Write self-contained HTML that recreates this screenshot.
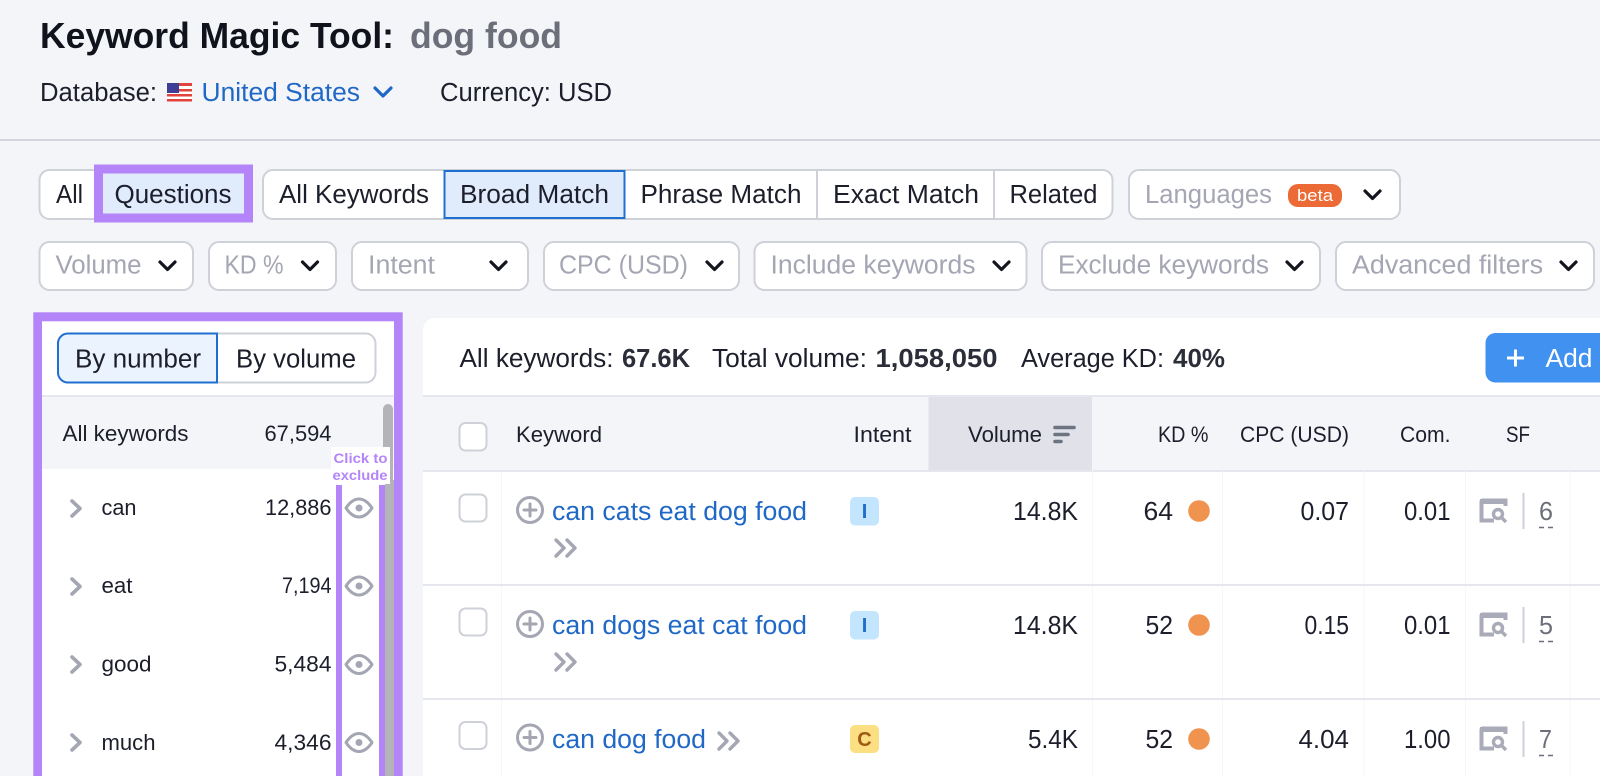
<!DOCTYPE html>
<html lang="en">
<head>
<meta charset="utf-8">
<title>Keyword Magic Tool: dog food</title>
<style>
html,body{margin:0;padding:0;background:#f4f5f9;width:1600px;height:776px;overflow:hidden}
svg{display:block;overflow:hidden}
text{font-family:"Liberation Sans",sans-serif;fill:#1c1e2b;font-size:25.5px}
.g{fill:#a4a6b3}
.l{fill:#1f68c6}
.s{font-size:22px}
.ic{fill:none;stroke:#a4a6b3;stroke-width:3;stroke-linecap:round;stroke-linejoin:round}
.ch{fill:none;stroke:#14161f;stroke-width:3.2;stroke-linecap:round;stroke-linejoin:round}
.b{fill:#fff;stroke:#cfd1d9;stroke-width:2}
.sep{stroke:#e6e7ee;stroke-width:2}
.col{stroke:#f6f7fa;stroke-width:1}
</style>
</head>
<body>
<svg width="1600" height="776" viewBox="0 0 1600 776" xmlns="http://www.w3.org/2000/svg">
<rect width="1600" height="776" fill="#f4f5f9"/>

<g>
<text x="40" y="48" font-weight="700" style="font-size:36px;fill:#11131c" textLength="354">Keyword Magic Tool:</text>
<text x="410" y="48" font-weight="700" style="font-size:36px;fill:#6c6e79" textLength="152">dog food</text>
<text x="40" y="101" textLength="117">Database:</text>
<g>
<rect x="167" y="83" width="25" height="18" fill="#fff"/>
<rect x="167" y="83" width="25" height="3" fill="#e2433f"/><rect x="167" y="89" width="25" height="2.5" fill="#e2433f"/><rect x="167" y="94" width="25" height="2.5" fill="#e2433f"/><rect x="167" y="99" width="25" height="2.5" fill="#e2433f"/>
<rect x="167" y="83" width="12" height="10" fill="#3c3f94"/>
</g>
<text x="201.500" y="101" class="l" textLength="158.500">United States</text>
<path d="M375 88l8 8 8-8" fill="none" stroke="#1f68c6" stroke-width="3.200" stroke-linecap="round" stroke-linejoin="round"/>
<text x="440" y="101" textLength="172">Currency: USD</text>
<line x1="0" y1="140" x2="1600" y2="140" stroke="#d4d6de" stroke-width="2"/>
</g>

<g>
<rect x="39.500" y="170" width="110" height="49" rx="10" class="b"/>
<text x="56" y="203" textLength="27">All</text>
<rect x="98.500" y="169" width="150" height="49" fill="#e0ebfb" stroke="#b485f8" stroke-width="9"/>
<text x="114.500" y="203" textLength="117">Questions</text>
</g>

<g>
<rect x="263" y="170" width="849.500" height="49" rx="10" class="b"/>
<text x="279" y="203" textLength="150">All Keywords</text>
<rect x="444.500" y="171" width="180" height="47" fill="#e0ebfb" stroke="#1f6fd0" stroke-width="2"/>
<text x="460" y="203" textLength="149">Broad Match</text>
<text x="640.500" y="203" textLength="161">Phrase Match</text>
<line x1="817" y1="170" x2="817" y2="219" stroke="#cfd1d9" stroke-width="2"/>
<text x="833" y="203" textLength="146">Exact Match</text>
<line x1="994" y1="170" x2="994" y2="219" stroke="#cfd1d9" stroke-width="2"/>
<text x="1009.500" y="203" textLength="88">Related</text>
</g>

<g>
<rect x="1129" y="170" width="271" height="49" rx="10" class="b"/>
<text x="1145" y="203" class="g" textLength="127">Languages</text>
<rect x="1288" y="184" width="54" height="23" rx="10" fill="#ec6a35"/>
<text x="1297" y="201" style="font-size:17px;fill:#fff" textLength="36">beta</text>
<path class="ch" d="M1365 191l7.500 7.500 7.500-7.500"/>
</g>

<g>
<g><rect x="39.500" y="242" width="153.500" height="48" rx="10" class="b"/><text x="55.500" y="273.500" class="g" textLength="86">Volume</text><path class="ch" d="M160 262l7.500 7.500 7.500-7.500"/></g>
<g><rect x="209" y="242" width="127" height="48" rx="10" class="b"/><text x="224.500" y="273.500" class="g" textLength="59">KD %</text><path class="ch" d="M302.500 262l7.500 7.500 7.500-7.500"/></g>
<g><rect x="352" y="242" width="176" height="48" rx="10" class="b"/><text x="368" y="273.500" class="g" textLength="67">Intent</text><path class="ch" d="M491 262l7.500 7.500 7.500-7.500"/></g>
<g><rect x="544" y="242" width="195" height="48" rx="10" class="b"/><text x="559" y="273.500" class="g" textLength="129">CPC (USD)</text><path class="ch" d="M707 262l7.500 7.500 7.500-7.500"/></g>
<g><rect x="754.500" y="242" width="272" height="48" rx="10" class="b"/><text x="770.500" y="273.500" class="g" textLength="205">Include keywords</text><path class="ch" d="M994 262l7.500 7.500 7.500-7.500"/></g>
<g><rect x="1042" y="242" width="278" height="48" rx="10" class="b"/><text x="1058" y="273.500" class="g" textLength="211">Exclude keywords</text><path class="ch" d="M1287 262l7.500 7.500 7.500-7.500"/></g>
<g><rect x="1336" y="242" width="258" height="48" rx="10" class="b"/><text x="1352" y="273.500" class="g" textLength="191">Advanced filters</text><path class="ch" d="M1561 262l7.500 7.500 7.500-7.500"/></g>
</g>

<g>
<rect x="33.300" y="312.300" width="369.400" height="463.700" fill="#b485f8"/>
<rect x="42" y="321.300" width="352" height="454.700" fill="#fff"/>
<rect x="58" y="333.500" width="317.500" height="49" rx="10" class="b"/>
<path d="M217 333.500H68a10 10 0 0 0-10 10v29a10 10 0 0 0 10 10H217z" fill="#ebf3fe" stroke="#1f6fd0" stroke-width="2"/>
<text x="75" y="367.500" textLength="126">By number</text>
<text x="236" y="367.500" textLength="120">By volume</text>
<line x1="42" y1="396" x2="394" y2="396" class="sep"/>
<rect x="42" y="397" width="352" height="72" fill="#f4f5f9"/>
<text x="62.500" y="441" class="s" textLength="126">All keywords</text>
<text x="264.500" y="441" class="s" textLength="67">67,594</text>

<rect x="383" y="404" width="10" height="80" rx="5" fill="#b3b3b8"/>
<rect x="385" y="480" width="9" height="296" fill="#b3b3b8"/>
<rect x="336" y="485" width="6" height="291" fill="#b485f8"/>
<rect x="379" y="485" width="6" height="291" fill="#b485f8"/>
<rect x="331" y="447" width="59" height="37" fill="#fff"/>
<text x="333.500" y="463" font-weight="700" style="font-size:14px;fill:#b485f8" textLength="54">Click to</text>
<text x="332.500" y="480" font-weight="700" style="font-size:14px;fill:#b485f8" textLength="55">exclude</text>

<g>
<path class="ic" style="stroke-width:3.600" d="M72 501l8 7.500-8 7.500"/><text x="101.500" y="515" class="s" textLength="35">can</text><text x="265" y="515" class="s" textLength="66.500">12,886</text>
<g><path class="ic" d="M346 508c4-6 8-9 13-9s9 3 13 9c-4 6-8 9-13 9s-9-3-13-9z"/><circle cx="359" cy="508" r="3.500" fill="#a4a6b3"/></g>
</g>
<g>
<path class="ic" style="stroke-width:3.600" d="M72 579l8 7.500-8 7.500"/><text x="101.500" y="593" class="s" textLength="31">eat</text><text x="282" y="593" class="s" textLength="49.500">7,194</text>
<g><path class="ic" d="M346 586c4-6 8-9 13-9s9 3 13 9c-4 6-8 9-13 9s-9-3-13-9z"/><circle cx="359" cy="586" r="3.500" fill="#a4a6b3"/></g>
</g>
<g>
<path class="ic" style="stroke-width:3.600" d="M72 657l8 7.500-8 7.500"/><text x="101.500" y="671.500" class="s" textLength="50">good</text><text x="274.500" y="671.500" class="s" textLength="57">5,484</text>
<g><path class="ic" d="M346 664.500c4-6 8-9 13-9s9 3 13 9c-4 6-8 9-13 9s-9-3-13-9z"/><circle cx="359" cy="664.500" r="3.500" fill="#a4a6b3"/></g>
</g>
<g>
<path class="ic" style="stroke-width:3.600" d="M72 735l8 7.500-8 7.500"/><text x="101.500" y="750" class="s" textLength="54">much</text><text x="274.500" y="750" class="s" textLength="57">4,346</text>
<g><path class="ic" d="M346 742.500c4-6 8-9 13-9s9 3 13 9c-4 6-8 9-13 9s-9-3-13-9z"/><circle cx="359" cy="742.500" r="3.500" fill="#a4a6b3"/></g>
</g>
</g>

<g>
<path d="M423 776V330a12 12 0 0 1 12-12H1600V776z" fill="#fff"/>
<g>
<text x="459.500" y="367" textLength="154">All keywords:</text>
<text x="622" y="367" font-weight="700" style="fill:#2b2d38" textLength="68">67.6K</text>
<text x="712" y="367" textLength="155">Total volume:</text>
<text x="875.500" y="367" font-weight="700" style="fill:#2b2d38" textLength="122">1,058,050</text>
<text x="1021" y="367" textLength="143">Average KD:</text>
<text x="1173" y="367" font-weight="700" style="fill:#2b2d38" textLength="52">40%</text>
</g>
<g>
<path d="M1600 333H1495.500a10 10 0 0 0-10 10v29.500a10 10 0 0 0 10 10H1600z" fill="#4191f0"/>
<path d="M1507 358h17M1515.500 349.500v17" stroke="#fff" stroke-width="3" fill="none"/>
<text x="1545.500" y="367" style="fill:#fff" textLength="47">Add</text>
</g>

<g>
<rect x="423" y="397" width="1177" height="74" fill="#f4f5f9"/>
<line x1="423" y1="396" x2="1600" y2="396" class="sep"/>
<line x1="423" y1="471" x2="1600" y2="471" class="sep"/>
<rect x="928.500" y="397" width="163.500" height="73" fill="#e0e1e9"/>
<rect x="459.500" y="423" width="27" height="27.500" rx="6" class="b"/>
<text x="516" y="442" class="s" textLength="86">Keyword</text>
<text x="853.500" y="442" class="s" textLength="58">Intent</text>
<text x="968" y="442" class="s" textLength="74">Volume</text>
<path d="M1055 427.500h19M1055 434.500h13M1055 441.500h6" stroke="#6b7480" stroke-width="3.600" stroke-linecap="round" fill="none"/>
<text x="1158" y="442" class="s" textLength="50.500">KD %</text>
<text x="1240" y="442" class="s" textLength="109">CPC (USD)</text>
<text x="1400" y="442" class="s" textLength="50.500">Com.</text>
<text x="1506" y="442" class="s" textLength="24">SF</text>
</g>

<g>
<line x1="501.500" y1="471" x2="501.500" y2="776" class="col"/>
<line x1="1092.500" y1="471" x2="1092.500" y2="776" class="col"/>
<line x1="1222.500" y1="471" x2="1222.500" y2="776" class="col"/>
<line x1="1364" y1="471" x2="1364" y2="776" class="col"/>
<line x1="1465.500" y1="471" x2="1465.500" y2="776" class="col"/>
<line x1="1570" y1="471" x2="1570" y2="776" class="col"/>
</g>
<line x1="423" y1="585" x2="1600" y2="585" class="sep"/>
<line x1="423" y1="699" x2="1600" y2="699" class="sep"/>

<g>
<rect x="459.500" y="494.500" width="27" height="27" rx="6" class="b"/>
<g><circle cx="530" cy="510" r="12.500" class="ic"/><path class="ic" d="M524 510h12M530 504v12"/></g>
<text x="552" y="520" class="l" textLength="255">can cats eat dog food</text>
<path class="ic" style="stroke-width:3.400" d="M556 540l8 8-8 8M567 540l8 8-8 8"/>
<rect x="850" y="497" width="29" height="28.500" rx="5" fill="#c4e5fe"/>
<text x="864.500" y="518" text-anchor="middle" font-weight="700" style="font-size:20px;fill:#1f6fc9">I</text>
<text x="1013" y="520" textLength="65">14.8K</text>
<text x="1143.500" y="520" textLength="29.500">64</text>
<circle cx="1199" cy="511" r="10.800" fill="#f0934f"/>
<text x="1300.500" y="520" textLength="48.500">0.07</text>
<text x="1404" y="520" textLength="46.500">0.01</text>
<g><path d="M1481.500 500.500H1505.500V506M1481.500 500.500V520.500H1494" fill="none" stroke="#a9abb8" stroke-width="4"/><rect x="1480" y="499" width="27" height="5" fill="#a9abb8"/><circle cx="1498" cy="514" r="4.500" fill="none" stroke="#a9abb8" stroke-width="3.400"/><path d="M1502 518l4 4" stroke="#a9abb8" stroke-width="3.400"/></g>
<line x1="1523.500" y1="493" x2="1523.500" y2="529" stroke="#cfd1d9" stroke-width="2"/>
<text x="1539" y="520" style="fill:#6c6e79" textLength="14">6</text>
<line x1="1539" y1="527.500" x2="1554" y2="527.500" stroke="#6c6e79" stroke-width="1.500" stroke-dasharray="5 4"/>
</g>

<g>
<rect x="459.500" y="608.500" width="27" height="27" rx="6" class="b"/>
<g><circle cx="530" cy="624" r="12.500" class="ic"/><path class="ic" d="M524 624h12M530 618v12"/></g>
<text x="552" y="634" class="l" textLength="255">can dogs eat cat food</text>
<path class="ic" style="stroke-width:3.400" d="M556 654l8 8-8 8M567 654l8 8-8 8"/>
<rect x="850" y="611" width="29" height="28.500" rx="5" fill="#c4e5fe"/>
<text x="864.500" y="632" text-anchor="middle" font-weight="700" style="font-size:20px;fill:#1f6fc9">I</text>
<text x="1013" y="634" textLength="65">14.8K</text>
<text x="1145.500" y="634" textLength="27.500">52</text>
<circle cx="1199" cy="625" r="10.800" fill="#f0934f"/>
<text x="1304.500" y="634" textLength="44.500">0.15</text>
<text x="1404" y="634" textLength="46.500">0.01</text>
<g><path d="M1481.500 614.500H1505.500V620M1481.500 614.500V634.500H1494" fill="none" stroke="#a9abb8" stroke-width="4"/><rect x="1480" y="613" width="27" height="5" fill="#a9abb8"/><circle cx="1498" cy="628" r="4.500" fill="none" stroke="#a9abb8" stroke-width="3.400"/><path d="M1502 632l4 4" stroke="#a9abb8" stroke-width="3.400"/></g>
<line x1="1523.500" y1="607" x2="1523.500" y2="643" stroke="#cfd1d9" stroke-width="2"/>
<text x="1539" y="634" style="fill:#6c6e79" textLength="14">5</text>
<line x1="1539" y1="641.500" x2="1554" y2="641.500" stroke="#6c6e79" stroke-width="1.500" stroke-dasharray="5 4"/>
</g>

<g>
<rect x="459.500" y="722" width="27" height="27" rx="6" class="b"/>
<g><circle cx="530" cy="737.500" r="12.500" class="ic"/><path class="ic" d="M524 737.500h12M530 731.500v12"/></g>
<text x="552" y="748" class="l" textLength="154">can dog food</text>
<path class="ic" style="stroke-width:3.400" d="M719 733l8 8-8 8M730 733l8 8-8 8"/>
<rect x="850" y="725" width="29" height="28" rx="5" fill="#fbdf82"/>
<text x="864.500" y="746" text-anchor="middle" font-weight="700" style="font-size:20px;fill:#a05a12">C</text>
<text x="1028" y="748" textLength="50">5.4K</text>
<text x="1145.500" y="748" textLength="27.500">52</text>
<circle cx="1199" cy="739" r="10.800" fill="#f0934f"/>
<text x="1298.500" y="748" textLength="50.500">4.04</text>
<text x="1404" y="748" textLength="46.500">1.00</text>
<g><path d="M1481.500 728.500H1505.500V734M1481.500 728.500V748.500H1494" fill="none" stroke="#a9abb8" stroke-width="4"/><rect x="1480" y="727" width="27" height="5" fill="#a9abb8"/><circle cx="1498" cy="742" r="4.500" fill="none" stroke="#a9abb8" stroke-width="3.400"/><path d="M1502 746l4 4" stroke="#a9abb8" stroke-width="3.400"/></g>
<line x1="1523.500" y1="721" x2="1523.500" y2="757" stroke="#cfd1d9" stroke-width="2"/>
<text x="1539" y="748" style="fill:#6c6e79" textLength="13">7</text>
<line x1="1539" y1="755.500" x2="1554" y2="755.500" stroke="#6c6e79" stroke-width="1.500" stroke-dasharray="5 4"/>
</g>
</g>
</svg>
<script>
document.querySelectorAll('text[textLength]').forEach(function (t) {
  t.setAttribute('lengthAdjust', 'spacingAndGlyphs');
});
</script>
</body>
</html>
